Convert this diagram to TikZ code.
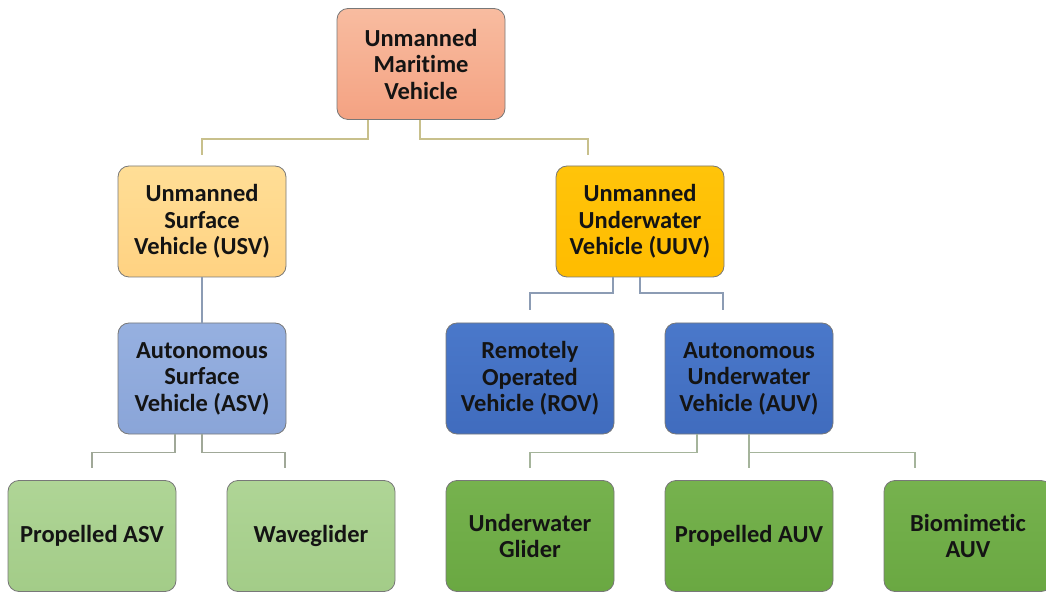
\documentclass[tikz,border=0pt]{standalone}
\usepackage{fontspec}
\setmainfont{Carlito}[Ligatures={NoCommon}]
\definecolor{bordc}{RGB}{120,120,120}
\definecolor{txtc}{RGB}{20,20,20}
\definecolor{topA}{RGB}{248,188,160}\definecolor{topB}{RGB}{244,162,130}
\definecolor{usvA}{RGB}{255,222,150}\definecolor{usvB}{RGB}{255,210,130}
\definecolor{uuvA}{RGB}{255,196,10}\definecolor{uuvB}{RGB}{255,188,0}
\definecolor{asvA}{RGB}{150,176,224}\definecolor{asvB}{RGB}{138,165,216}
\definecolor{bluA}{RGB}{74,120,202}\definecolor{bluB}{RGB}{64,108,190}
\definecolor{lgA}{RGB}{175,213,150}\definecolor{lgB}{RGB}{163,204,136}
\definecolor{gA}{RGB}{118,178,78}\definecolor{gB}{RGB}{106,168,66}
\definecolor{lnT}{RGB}{200,192,140}
\definecolor{lnB}{RGB}{140,156,180}
\definecolor{lnGy}{RGB}{160,168,152}
\definecolor{lnGn}{RGB}{165,180,155}
\begin{document}
\begin{tikzpicture}[x=1pt,y=1pt,
  box/.style={draw=bordc, line width=0.8pt, rounded corners=11pt,
    minimum width=168pt, minimum height=111pt, align=center, inner sep=2pt,
    font=\fontsize{24.5}{26.5}\selectfont\bfseries, text=txtc},
  cTop/.style={top color=topA, bottom color=topB},
  cUSV/.style={top color=usvA, bottom color=usvB},
  cUUV/.style={top color=uuvA, bottom color=uuvB},
  cASV/.style={top color=asvA, bottom color=asvB},
  cBlue/.style={top color=bluA, bottom color=bluB},
  cLG/.style={top color=lgA, bottom color=lgB},
  cG/.style={top color=gA, bottom color=gB},
  lnTop/.style={draw=lnT, line width=1.8pt},
  lnBlue/.style={draw=lnB, line width=1.8pt},
  lnGrey/.style={draw=lnGy, line width=1.8pt},
  lnGreen/.style={draw=lnGn, line width=1.8pt}
]
\useasboundingbox (0,0) rectangle (1046,592);
\begin{scope}
\clip (0,0) rectangle (1046,592);
% level 0
\node[box,cTop]  (top)  at (421,528) {Unmanned\\Maritime\\Vehicle};
% level 1
\node[box,cUSV]  (usv)  at (202,370.5) {Unmanned\\Surface\\Vehicle (USV)};
\node[box,cUUV]  (uuv)  at (640,370.5) {Unmanned\\Underwater\\Vehicle (UUV)};
% level 2
\node[box,cASV]  (asv)  at (202,213.5) {Autonomous\\Surface\\Vehicle (ASV)};
\node[box,cBlue] (rov)  at (530,213.5) {Remotely\\Operated\\Vehicle (ROV)};
\node[box,cBlue] (auv)  at (749,213.5) {Autonomous\\Underwater\\Vehicle (AUV)};
% level 3
\node[box,cLG]   (pasv) at (92,56)  {Propelled ASV};
\node[box,cLG]   (wave) at (311,56) {Waveglider};
\node[box,cG]    (ug)   at (530,56) {Underwater\\Glider};
\node[box,cG]    (pauv) at (749,56) {Propelled AUV};
\node[box,cG]    (bio)  at (968,56) {Biomimetic\\AUV};
\end{scope}
% connectors
\draw[lnTop] ([xshift=-53pt]top.south) -- ++(0,-19) -| ([yshift=11pt]usv.north);
\draw[lnTop] ([xshift=-1pt]top.south) -- ++(0,-19) -| ([xshift=-52pt,yshift=11pt]uuv.north);
\draw[lnBlue] (usv.south) -- (asv.north);
\draw[lnBlue] ([xshift=-27pt]uuv.south) -- ++(0,-16) -| ([yshift=13pt]rov.north);
\draw[lnBlue] (uuv.south) -- ++(0,-16) -| ([xshift=-26pt,yshift=13pt]auv.north);
\draw[lnGrey] ([xshift=-27pt]asv.south) -- ++(0,-18) -| ([yshift=12pt]pasv.north);
\draw[lnGrey] (asv.south) -- ++(0,-18) -| ([xshift=-26pt,yshift=12pt]wave.north);
\draw[lnGreen] ([xshift=-52pt]auv.south) -- ++(0,-18) -| ([yshift=12pt]ug.north);
\draw[lnGreen] (auv.south) -- ([yshift=12pt]pauv.north);
\draw[lnGreen] ([yshift=-18pt]auv.south) -| ([xshift=-53pt,yshift=12pt]bio.north);
\end{tikzpicture}
\end{document}
